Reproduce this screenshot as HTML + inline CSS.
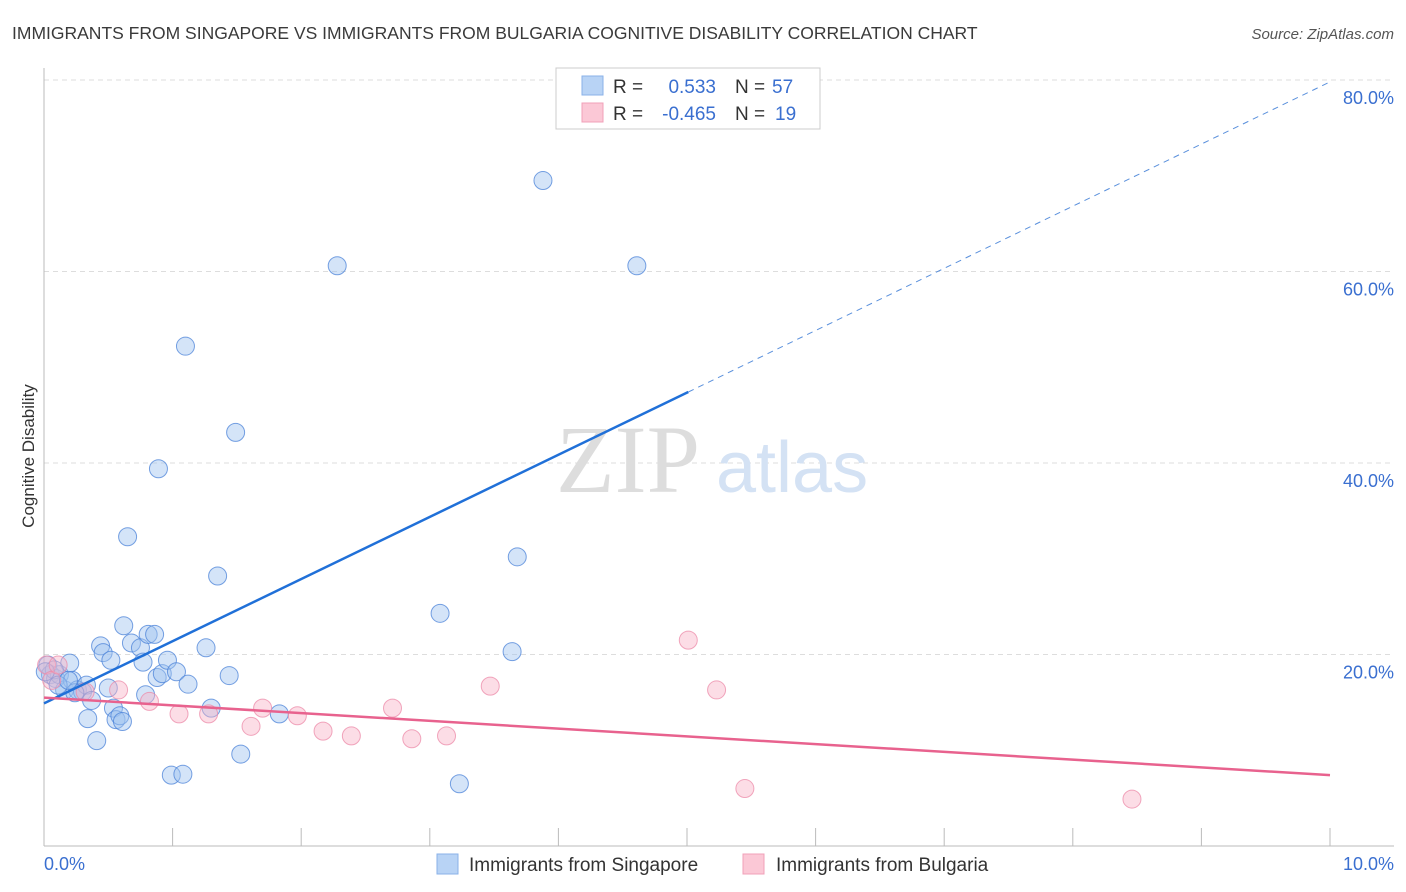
<!DOCTYPE html>
<html><head><meta charset="utf-8"><style>
body{margin:0;background:#fff;font-family:"Liberation Sans",sans-serif;}
svg{display:block}
</style></head><body>
<svg id="chart" width="1406" height="892">
<text x="12" y="39" font-size="17.5" fill="#3a3a3a">IMMIGRANTS FROM SINGAPORE VS IMMIGRANTS FROM BULGARIA COGNITIVE DISABILITY CORRELATION CHART</text>
<text x="1394" y="39" font-size="15" fill="#555" font-style="italic" text-anchor="end">Source: ZipAtlas.com</text>
<text transform="translate(34,456) rotate(-90)" font-size="17" fill="#333" text-anchor="middle">Cognitive Disability</text>
<g id="grid"></g>
<text x="556" y="492" font-size="96" fill="#ddd" font-family="Liberation Serif">ZIP</text>
<text x="716" y="492" font-size="72" fill="#d4e2f4">atlas</text>
<g id="marks"></g>
<g id="lines"></g>
<g>
<rect x="556" y="68" width="264" height="61" fill="#fff" stroke="#ccc"/>
<rect x="582" y="76" width="21" height="19" fill="#b8d3f5" stroke="#8ab2e8"/>
<rect x="582" y="103" width="21" height="19" fill="#fbc8d6" stroke="#f0a0b8"/>
<text x="613" y="93" font-size="19" fill="#333">R =</text>
<text x="716" y="93" font-size="19" fill="#3a6fd0" text-anchor="end">0.533</text>
<text x="735" y="93" font-size="19" fill="#333">N =</text>
<text x="772" y="93" font-size="19" fill="#3a6fd0">57</text>
<text x="613" y="120" font-size="19" fill="#333">R =</text>
<text x="716" y="120" font-size="19" fill="#3a6fd0" text-anchor="end">-0.465</text>
<text x="735" y="120" font-size="19" fill="#333">N =</text>
<text x="775" y="120" font-size="19" fill="#3a6fd0">19</text>
</g>
<g>
<rect x="437" y="854" width="21" height="20" fill="#b8d3f5" stroke="#8ab2e8"/>
<text x="469" y="871" font-size="19" fill="#333">Immigrants from Singapore</text>
<rect x="743" y="854" width="21" height="20" fill="#fbc8d6" stroke="#f0a0b8"/>
<text x="776" y="871" font-size="19" fill="#333">Immigrants from Bulgaria</text>
</g>
<text x="44" y="870" font-size="18" fill="#3a6fd0">0.0%</text>
<text x="1394" y="870" font-size="18" fill="#3a6fd0" text-anchor="end">10.0%</text>
</svg>
<script>
const sgX=[0.03,0.05,0.09,0.12,0.16,0.20,0.22,0.26,0.30,0.33,0.34,0.37,0.41,0.44,0.46,0.50,0.52,0.54,0.56,0.59,0.61,0.62,0.65,0.68,0.75,0.77,0.79,0.81,0.86,0.88,0.89,0.92,0.96,0.99,1.03,1.08,1.10,1.12,1.26,1.30,1.35,1.44,1.49,1.53,1.83,2.28,3.08,3.23,3.64,3.68,3.88,4.61,0.08,0.01,0.11,0.24,0.19];
const sgY=[18.9,17.9,17.5,17.9,16.3,19.1,17.3,16.3,16.1,16.8,13.3,15.2,11.0,20.9,20.2,16.5,19.4,14.4,13.2,13.6,13.0,23.0,32.3,21.2,20.7,19.2,15.8,22.1,22.1,17.6,39.4,18.0,19.4,7.4,18.2,7.5,52.2,16.9,20.7,14.4,28.2,17.8,43.2,9.6,13.8,60.6,24.3,6.5,20.3,30.2,69.5,60.6,18.4,18.2,16.8,16.0,17.3];
const bgX=[0.02,0.06,0.11,0.32,0.58,0.82,1.05,1.28,1.61,1.70,1.97,2.17,2.39,2.71,2.86,3.13,3.47,5.01,5.23,5.45,8.46];
const bgY=[18.9,17.3,18.9,16.1,16.3,15.1,13.8,13.8,12.5,14.4,13.6,12.0,11.5,14.4,11.2,11.5,16.7,21.5,16.3,6.0,4.9];
const yTicks=[20,40,60,80];
const sgTrend=[14.9,79.8];
const bgTrend=[15.5,7.4];
const NS="http://www.w3.org/2000/svg";
const sx=v=>44+v*128.6, sy=v=>846-v*9.575;
function mk(t,a,p){const e=document.createElementNS(NS,t);for(const k in a)e.setAttribute(k,a[k]);p.appendChild(e);return e;}
const grid=document.getElementById('grid');
yTicks.forEach(t=>{
 const l=mk('line',{x1:44,x2:1394,y1:sy(t),y2:sy(t),stroke:'#ddd','stroke-dasharray':'5,4'},grid);
 
 
 const tx=mk('text',{x:1394,y:sy(t)+24,'font-size':18,fill:'#3a6fd0','text-anchor':'end'},grid);
 tx.textContent=t.toFixed(1)+'%';
 
 
});
mk('line',{x1:44,x2:44,y1:68,y2:846,stroke:'#bbb'},grid);
mk('line',{x1:44,x2:1394,y1:846,y2:846,stroke:'#bbb'},grid);
for(let i=1;i<=10;i++){const l=mk('line',{x1:sx(i),x2:sx(i),y1:828,y2:846,stroke:'#bbb'},grid);
 
 }
const marks=document.getElementById('marks');
sgX.forEach((x,i)=>{const c=mk('circle',{cx:sx(x),cy:sy(sgY[i]),r:9,fill:'rgba(160,196,240,0.45)',stroke:'rgba(74,130,216,0.75)','stroke-width':1},marks);
 
 });
bgX.forEach((x,i)=>{const c=mk('circle',{cx:sx(x),cy:sy(bgY[i]),r:9,fill:'rgba(248,180,200,0.45)',stroke:'rgba(236,138,168,0.75)','stroke-width':1},marks);
 
 });
const lines=document.getElementById('lines');
const sgAt=x=>sgTrend[0]+(sgTrend[1]-sgTrend[0])*x/10;
let l1=mk('line',{x1:sx(0),y1:sy(sgAt(0)),x2:sx(5.01),y2:sy(sgAt(5.01)),stroke:'#2070d8','stroke-width':2.5},lines);


let l2=mk('line',{x1:sx(5.01),y1:sy(sgAt(5.01)),x2:sx(10),y2:sy(sgAt(10)),stroke:'#5a90dc','stroke-width':1,'stroke-dasharray':'6,5'},lines);


let l3=mk('line',{x1:sx(0),y1:sy(bgTrend[0]),x2:sx(10),y2:sy(bgTrend[1]),stroke:'#e8628e','stroke-width':2.5},lines);


</script>
</body></html>
